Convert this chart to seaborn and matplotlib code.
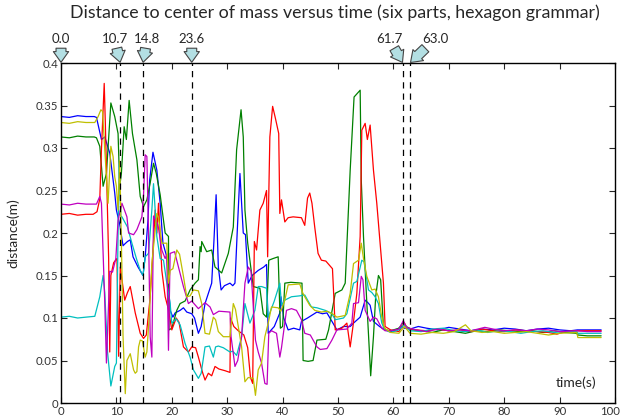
import pandas as pd
import matplotlib
matplotlib.use('Agg')
import matplotlib.pyplot as plt
import matplotlib.ticker as mticker
import matplotlib.transforms as mtransforms
import seaborn as sns

# distance of each part to the center of mass, (time s, distance m)
blue = [(0, 0.337), (1.5, 0.336), (3, 0.338), (4.5, 0.337), (6.0, 0.337), (6.4, 0.336), (7.3, 0.31), (7.9, 0.313),
        (8.8, 0.294), (9.7, 0.247), (10.0, 0.227), (10.6, 0.21), (11.2, 0.185), (11.5, 0.187), (12.0, 0.19),
        (12.5, 0.192), (13.0, 0.172), (13.9, 0.16), (14.8, 0.15), (15.2, 0.172), (15.7, 0.215), (16.0, 0.262),
        (16.6, 0.295), (17.3, 0.274), (17.9, 0.235), (18.4, 0.188), (19.1, 0.172), (19.7, 0.109), (20.2, 0.101),
        (20.6, 0.106), (21.5, 0.109), (22.1, 0.112), (22.7, 0.107), (23.6, 0.105), (24.1, 0.1), (24.8, 0.082),
        (25.3, 0.09), (26.0, 0.117), (26.9, 0.135), (27.2, 0.141), (27.6, 0.19), (28.0, 0.245), (28.4, 0.16),
        (28.9, 0.133), (29.5, 0.138), (30.5, 0.141), (31.0, 0.138), (31.4, 0.141), (31.8, 0.2), (32.3, 0.27),
        (32.9, 0.2), (33.3, 0.198), (33.8, 0.141), (34.5, 0.15), (35.6, 0.156), (36.6, 0.16), (37.1, 0.163),
        (37.4, 0.082), (38.5, 0.09), (39.5, 0.106), (39.7, 0.125), (40.2, 0.1), (41.0, 0.086), (42.0, 0.088),
        (43.1, 0.086), (43.4, 0.096), (44.5, 0.1), (46.2, 0.107), (47.2, 0.105), (48.0, 0.106), (49.0, 0.095),
        (49.8, 0.086), (51.0, 0.09), (52.2, 0.09), (52.8, 0.094), (54.0, 0.101), (54.9, 0.121), (55.4, 0.118),
        (55.8, 0.115), (56.4, 0.096), (57.5, 0.09), (58.5, 0.086),
        (59.5, 0.084), (60.5, 0.086), (61.5, 0.09), (62.0, 0.088), (63.0, 0.087), (64.5, 0.09), (66, 0.088),
        (68, 0.086), (70, 0.089), (72, 0.087), (74, 0.085), (76, 0.087), (78, 0.086), (80, 0.088), (82, 0.087),
        (84, 0.085), (86, 0.087), (88, 0.088), (90, 0.086), (92, 0.085), (93.2, 0.086), (95, 0.086), (97.5, 0.086)]

green = [(0, 0.313), (1.5, 0.312), (3, 0.314), (4.5, 0.313), (6.0, 0.313), (6.4, 0.312), (7.0, 0.302), (7.6, 0.255),
         (8.2, 0.27), (9.0, 0.353), (9.7, 0.337), (10.3, 0.317), (10.6, 0.255), (10.9, 0.27), (11.4, 0.325),
         (11.8, 0.31), (12.3, 0.356), (12.9, 0.317), (13.7, 0.286), (14.3, 0.243), (14.9, 0.231), (15.5, 0.239),
         (16.1, 0.259), (16.7, 0.282), (17.2, 0.27), (17.9, 0.245), (18.8, 0.2), (19.4, 0.196), (19.5, 0.086),
         (20.0, 0.088), (20.9, 0.109), (21.5, 0.117), (22.4, 0.12), (23.3, 0.133), (24.2, 0.141), (24.8, 0.145),
         (25.1, 0.184), (25.3, 0.178), (25.4, 0.19), (26.3, 0.178), (27.2, 0.18), (27.8, 0.16), (29.0, 0.153),
         (30.2, 0.176), (31.1, 0.207), (31.7, 0.298), (32.5, 0.345), (32.9, 0.313), (33.2, 0.227), (33.7, 0.188),
         (34.7, 0.137), (35.9, 0.135), (36.5, 0.105), (37.1, 0.101), (37.5, 0.168), (38.3, 0.17), (39.2, 0.172),
         (39.6, 0.088), (40.0, 0.09), (40.4, 0.141), (41.5, 0.142), (43.5, 0.141), (43.7, 0.05), (44.6, 0.049),
         (45.5, 0.05), (46.2, 0.074), (47.8, 0.075), (48.3, 0.086), (49.5, 0.129), (50.7, 0.133), (51.3, 0.141),
         (52.2, 0.274), (52.9, 0.36), (54.0, 0.368), (54.2, 0.262), (54.6, 0.196), (55.2, 0.118), (55.9, 0.032),
         (56.4, 0.078), (56.8, 0.125), (57.3, 0.15), (57.7, 0.145), (58.2, 0.09), (58.6, 0.086),
         (59.5, 0.085), (61, 0.088), (61.8, 0.095), (62.3, 0.09), (63.5, 0.086), (65, 0.085), (67, 0.083),
         (69, 0.086), (71, 0.084), (73, 0.082), (75, 0.085), (77, 0.084), (79, 0.086), (81, 0.085), (83, 0.084),
         (85, 0.085), (87, 0.083), (89, 0.085), (91, 0.083), (93.1, 0.082), (93.3, 0.08), (95, 0.079), (97.5, 0.079)]

red = [(0, 0.222), (1.5, 0.223), (3, 0.221), (4.5, 0.222), (5.8, 0.222), (6.5, 0.225), (7.0, 0.24), (7.3, 0.298),
       (7.8, 0.376), (8.0, 0.33), (8.3, 0.25), (8.6, 0.17), (8.8, 0.06), (9.0, 0.15), (9.5, 0.165), (10.1, 0.17),
       (10.4, 0.055), (10.7, 0.16), (11.5, 0.121), (12.0, 0.13), (12.5, 0.137), (13.4, 0.106), (14.3, 0.082),
       (14.9, 0.076), (15.4, 0.08), (16.1, 0.125), (16.7, 0.19), (17.0, 0.227), (17.3, 0.2), (17.6, 0.235),
       (18.2, 0.156), (18.8, 0.125), (19.4, 0.11), (20.0, 0.086), (20.8, 0.1), (21.3, 0.095), (22.1, 0.066),
       (23.0, 0.06), (23.6, 0.066), (24.3, 0.065), (24.8, 0.054), (25.5, 0.037), (26.0, 0.027), (26.6, 0.035),
       (27.2, 0.032), (27.8, 0.043), (28.5, 0.04), (29.6, 0.038), (30.5, 0.036), (30.6, 0.1), (31.2, 0.09),
       (32.0, 0.085), (33.0, 0.08), (33.7, 0.065), (34.2, 0.03), (34.6, 0.023), (34.9, 0.19), (35.3, 0.18),
       (35.9, 0.227), (36.5, 0.235), (37.1, 0.25), (37.3, 0.172), (37.7, 0.313), (38.2, 0.349), (38.7, 0.335),
       (39.3, 0.317), (39.5, 0.223), (39.8, 0.239), (40.4, 0.213), (41.0, 0.218), (41.9, 0.219), (43.4, 0.218),
       (44.0, 0.209), (44.5, 0.241), (44.9, 0.247), (45.3, 0.235), (45.8, 0.207), (46.4, 0.176), (47.0, 0.168),
       (47.8, 0.167), (48.6, 0.161), (49.0, 0.158), (49.3, 0.117), (49.5, 0.086), (50.7, 0.088), (51.6, 0.094),
       (52.2, 0.066), (52.7, 0.09), (53.4, 0.129), (54.0, 0.196), (54.3, 0.321), (54.9, 0.329), (55.3, 0.31),
       (55.8, 0.327), (56.4, 0.274), (57.0, 0.235), (57.6, 0.188), (58.2, 0.141), (58.5, 0.09),
       (59.5, 0.086), (61, 0.084), (62, 0.094), (62.5, 0.088), (64, 0.086), (66, 0.085), (68, 0.087), (70, 0.085),
       (72, 0.086), (74, 0.084), (76, 0.087), (78, 0.085), (80, 0.084), (82, 0.086), (84, 0.085), (86, 0.084),
       (88, 0.083), (89.5, 0.081), (91, 0.084), (93, 0.085), (95, 0.085), (97.5, 0.085)]

cyan = [(0, 0.101), (1.5, 0.102), (3, 0.1), (4.5, 0.101), (6.1, 0.102), (7.0, 0.125), (7.6, 0.15), (7.9, 0.13),
        (8.4, 0.06), (9.0, 0.02), (9.7, 0.043), (10.0, 0.047), (10.3, 0.2), (10.5, 0.28), (10.8, 0.22),
        (11.0, 0.219), (12.0, 0.207), (12.8, 0.188), (13.7, 0.168), (14.3, 0.156), (14.8, 0.15), (15.2, 0.172),
        (15.8, 0.176), (16.4, 0.227), (16.7, 0.258), (17.3, 0.196), (17.9, 0.17), (18.5, 0.168), (19.1, 0.141),
        (19.7, 0.117), (20.0, 0.094), (20.8, 0.099), (21.5, 0.092), (22.4, 0.07), (23.3, 0.054), (23.9, 0.039),
        (24.8, 0.029), (25.3, 0.035), (26.0, 0.066), (26.8, 0.067), (27.5, 0.054), (27.9, 0.066), (28.4, 0.067),
        (29.3, 0.065), (30.5, 0.06), (31.0, 0.061), (31.7, 0.056), (32.6, 0.078), (33.2, 0.117), (34.1, 0.094),
        (35.0, 0.109), (35.6, 0.137), (36.2, 0.137), (37.1, 0.135), (37.4, 0.101), (38.5, 0.12), (39.5, 0.141),
        (39.8, 0.115), (40.4, 0.121), (41.6, 0.125), (43.0, 0.126), (44.0, 0.127), (45.2, 0.113), (46.2, 0.112),
        (47.7, 0.109), (48.9, 0.105), (49.5, 0.098), (51.0, 0.1), (51.6, 0.105), (52.8, 0.141), (53.4, 0.143),
        (54.3, 0.168), (54.7, 0.166), (55.5, 0.133), (56.1, 0.13), (56.7, 0.125), (57.3, 0.117), (57.9, 0.094),
        (58.5, 0.086),
        (59.5, 0.083), (61, 0.086), (62, 0.092), (63, 0.085), (65, 0.084), (67, 0.087), (69, 0.088), (71, 0.085),
        (73, 0.084), (75, 0.086), (77, 0.083), (79, 0.085), (81, 0.084), (83, 0.082), (85, 0.084), (87, 0.085),
        (89, 0.083), (91, 0.084), (93.1, 0.084), (93.3, 0.082), (95, 0.082), (97.5, 0.082)]

magenta = [(0, 0.234), (1.5, 0.233), (3, 0.235), (4.5, 0.234), (6.4, 0.234), (7.0, 0.243), (7.3, 0.235),
           (7.9, 0.118), (8.2, 0.047), (8.8, 0.155), (9.3, 0.154), (9.9, 0.17), (10.3, 0.215), (11.0, 0.235),
           (11.4, 0.228), (11.9, 0.219), (12.2, 0.2), (13.1, 0.198), (13.7, 0.204), (14.6, 0.219), (14.9, 0.245),
           (15.2, 0.292), (15.5, 0.29), (15.8, 0.2), (16.1, 0.078), (16.4, 0.054), (16.7, 0.22), (17.5, 0.21),
           (18.2, 0.18), (18.8, 0.17), (19.1, 0.175), (19.4, 0.062), (19.7, 0.176), (20.5, 0.178), (21.2, 0.16),
           (22.1, 0.137), (23.0, 0.117), (23.6, 0.12), (24.8, 0.111), (26.0, 0.118), (26.9, 0.113), (27.5, 0.104),
           (28.5, 0.108), (30.5, 0.107), (30.7, 0.078), (31.4, 0.043), (31.9, 0.05), (32.6, 0.078), (33.2, 0.141),
           (33.8, 0.16), (34.3, 0.155), (35.1, 0.074), (35.6, 0.06), (36.2, 0.047), (36.8, 0.023), (37.2, 0.022),
           (37.5, 0.082), (38.0, 0.085), (38.9, 0.082), (39.5, 0.054), (39.8, 0.065), (40.7, 0.109), (41.6, 0.111),
           (42.5, 0.109), (43.4, 0.098), (44.0, 0.082), (45.0, 0.08), (46.2, 0.066), (46.8, 0.063), (48.0, 0.064),
           (48.9, 0.074), (49.8, 0.086), (51.6, 0.087), (52.5, 0.094), (52.8, 0.117), (53.7, 0.118), (54.2, 0.149),
           (54.5, 0.145), (54.9, 0.109), (55.8, 0.096), (56.4, 0.101), (57.0, 0.099), (57.9, 0.088), (58.5, 0.085),
           (59.5, 0.085), (61, 0.087), (61.8, 0.097), (62.3, 0.089), (64, 0.086), (66, 0.084), (68, 0.087),
           (70, 0.085), (72, 0.086), (74, 0.085), (76.5, 0.089), (78, 0.087), (80, 0.085), (82, 0.086), (84, 0.085),
           (86, 0.087), (88, 0.086), (90, 0.084), (93, 0.085), (95, 0.084), (97.5, 0.084)]

yellow = [(0, 0.330), (1.5, 0.329), (3, 0.331), (4.5, 0.330), (6.1, 0.330), (6.7, 0.337), (7.2, 0.345), (7.5, 0.343),
          (7.9, 0.298), (8.5, 0.235), (9.0, 0.302), (9.4, 0.29), (9.7, 0.266), (10.0, 0.255), (10.3, 0.227),
          (10.6, 0.285), (11.0, 0.156), (11.2, 0.078), (11.6, 0.011), (11.9, 0.05), (12.5, 0.058), (13.1, 0.039),
          (13.4, 0.035), (13.7, 0.037), (14.0, 0.066), (14.3, 0.074), (14.7, 0.073), (15.2, 0.054), (15.5, 0.06),
          (15.9, 0.1), (16.4, 0.164), (17.3, 0.223), (17.6, 0.218), (18.2, 0.188), (19.1, 0.188), (19.4, 0.141),
          (19.7, 0.156), (20.2, 0.158), (20.9, 0.18), (21.4, 0.175), (22.1, 0.149), (22.7, 0.125), (23.3, 0.126),
          (23.9, 0.133), (24.8, 0.132), (25.4, 0.117), (26.0, 0.082), (26.8, 0.081), (27.5, 0.101), (27.9, 0.098),
          (28.4, 0.084), (29.3, 0.078), (30.5, 0.078), (31.1, 0.117), (31.5, 0.11), (32.6, 0.066), (33.2, 0.025),
          (33.8, 0.03), (34.7, 0.029), (35.1, 0.009), (35.6, 0.039), (36.2, 0.047), (36.8, 0.078), (37.4, 0.094),
          (38.0, 0.113), (39.2, 0.112), (39.7, 0.108), (40.4, 0.121), (41.0, 0.139), (43.1, 0.14), (43.6, 0.13),
          (44.0, 0.125), (44.9, 0.115), (45.8, 0.109), (47.0, 0.107), (48.0, 0.108), (49.0, 0.105), (49.8, 0.101),
          (51.3, 0.103), (52.2, 0.129), (52.8, 0.164), (53.7, 0.168), (54.2, 0.188), (54.6, 0.17), (55.2, 0.149),
          (56.1, 0.133), (56.7, 0.134), (57.3, 0.125), (57.9, 0.101), (58.4, 0.088),
          (59.5, 0.083), (61, 0.082), (62, 0.09), (63, 0.082), (65, 0.081), (67, 0.083), (69, 0.082), (71, 0.084),
          (73, 0.092), (74, 0.085), (76, 0.083), (78, 0.084), (80, 0.082), (82, 0.083), (84, 0.084), (86, 0.082),
          (88, 0.08), (90, 0.082), (93.1, 0.083), (93.3, 0.077), (95, 0.077), (97.5, 0.077)]

parts = {'blue': blue, 'green': green, 'red': red, 'cyan': cyan, 'magenta': magenta, 'yellow': yellow}
colors = {'blue': '#0000ff', 'green': '#008000', 'red': '#ff0000',
          'cyan': '#00bfbf', 'magenta': '#bf00bf', 'yellow': '#bfbf00'}

# event markers at the top of the plot
event_times = [0.0, 10.7, 14.8, 23.6, 61.7, 63.0]
event_labels = ['0.0', '10.7', '14.8', '23.6', '61.7', '63.0']
dashed_times = [10.7, 14.8, 23.6, 61.7, 63.0]

rows = []
for name, pts in parts.items():
    for t, d in pts:
        rows.append({'part': name, 'time': t, 'distance': d})
df = pd.DataFrame(rows)

sns.set_style('ticks')
plt.rcParams['font.family'] = ['Lato', 'DejaVu Sans']

fig = plt.figure(figsize=(6.23, 4.18), dpi=100)
ax = fig.add_axes([61 / 623, 1 - 403 / 418, 554 / 623, 340 / 418])

sns.lineplot(data=df, x='time', y='distance', hue='part', palette=colors,
             estimator=None, sort=False, legend=False, linewidth=0.9, ax=ax)

for t in dashed_times:
    ax.axvline(t, color='black', linestyle=(0, (5, 4)), linewidth=0.9)

ax.set_xlim(0, 100)
ax.set_ylim(0, 0.4)
ax.set_xticks(range(0, 101, 10))
ax.set_yticks([i * 0.05 for i in range(9)])
ax.yaxis.set_major_formatter(mticker.FuncFormatter(lambda v, p: '%g' % round(v, 2)))
ax.tick_params(direction='in', length=4, width=0.8, labelsize=8.2, labelcolor='#333333',
               top=True, right=True, pad=2)
for s in ax.spines.values():
    s.set_linewidth(1.0)
    s.set_color('black')

# nudge the "100" label so it stays inside the figure
last = ax.get_xticklabels()[-1]
last.set_transform(last.get_transform() + mtransforms.ScaledTranslation(-5 / 100, 0, fig.dpi_scale_trans))

ax.set_xlabel('')
ax.set_ylabel('distance(m)', fontsize=10)
ax.yaxis.set_label_coords(-0.075, 0.5)
ax.text(0.967, 0.06, 'time(s)', transform=ax.transAxes, ha='right', va='center', fontsize=10)

fig.text(335 / 623, 1 - 13 / 418, 'Distance to center of mass versus time (six parts, hexagon grammar)',
         ha='center', va='center', fontsize=12.8)

arrow_style = 'simple,head_length=0.7,head_width=1.0,tail_width=0.65'
label_offsets = {'0.0': (0, 13), '10.7': (-4, 13), '14.8': (3, 13), '23.6': (0, 13),
                 '61.7': (-10, 13), '63.0': (18, 13)}
for t, lab in zip(event_times, event_labels):
    ax.annotate(lab, xy=(t, 0.4), xycoords='data', xytext=label_offsets[lab], textcoords='offset points',
                ha='center', va='bottom', fontsize=9.5, annotation_clip=False,
                arrowprops=dict(arrowstyle=arrow_style, fc='#b3dfe3', ec='#444444', lw=0.8,
                                mutation_scale=11, shrinkA=0, shrinkB=0.5))

plt.savefig('out.png', dpi=100)
